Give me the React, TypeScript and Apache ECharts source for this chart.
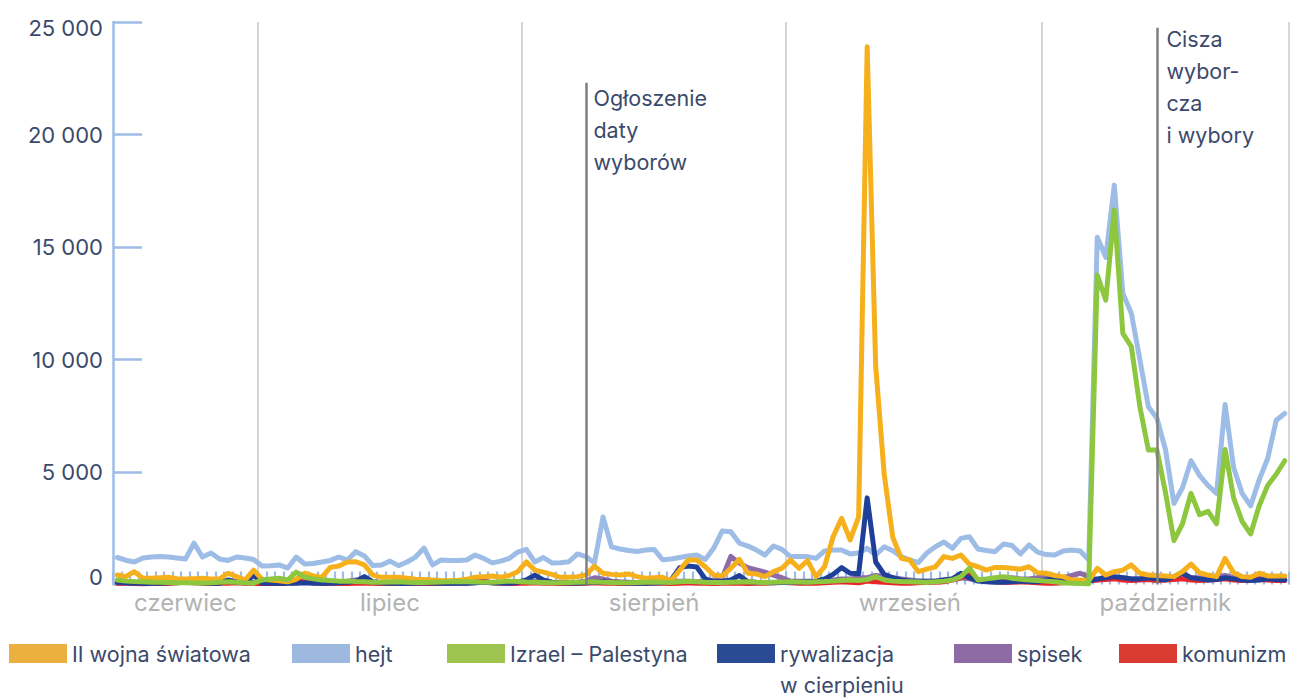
import React, { useEffect, useRef } from 'react';
import * as echarts from 'echarts';

// ---- categories: daily, 14 June 2023 – 29 October 2023 ----
const firstDay = '2023-06-14';
const dayCount = 138;
function buildDates(): string[] {
  const out: string[] = [];
  const t0 = Date.parse(firstDay + 'T00:00:00Z');
  for (let i = 0; i < dayCount; i++) {
    out.push(new Date(t0 + i * 86400000).toISOString().slice(0, 10));
  }
  return out;
}
const dates = buildDates();

const monthStarts = ['2023-07-01', '2023-08-01', '2023-09-01', '2023-10-01'];
const monthLabelDates = ['2023-06-22', '2023-07-16', '2023-08-16', '2023-09-15', '2023-10-15'];
const monthLabelTexts = ['czerwiec', 'lipiec', 'sierpień', 'wrzesień', 'październik'];

const yTicks = [0, 5000, 10000, 15000, 20000, 25000];

const eventDates = ['2023-08-08', '2023-10-14'];
const eventTops = [22300, 24750];
const eventTexts = ['Ogłoszenie\ndaty\nwyborów', 'Cisza\nwybor-\ncza\ni wybory'];

// ---- series ----
const seriesNames = ['II wojna światowa', 'hejt', 'Izrael – Palestyna', 'rywalizacja w cierpieniu', 'spisek', 'komunizm'];

const wojna = [
  420, 350, 570, 280, 280, 300, 320, 260, 240, 260,
  280, 250, 250, 500, 350, 200, 640, 230, 200, 170,
  120, 230, 500, 380, 320, 760, 820, 1000, 1010, 870,
  420, 320, 320, 320, 280, 230, 220, 200, 180, 170,
  190, 230, 320, 350, 380, 320, 400, 570, 1010, 640,
  550, 450, 320, 320, 350, 420, 820, 500, 450, 420,
  470, 350, 280, 300, 320, 170, 640, 1090, 1090, 790,
  420, 380, 720, 1120, 500, 470, 350, 570, 720, 1090,
  720, 1060, 350, 790, 2120, 2940, 1980, 3010, 23900, 9700,
  4900, 2100, 1160, 1090, 570, 680, 780, 1240, 1160, 1310,
  900, 790, 640, 760, 760, 720, 680, 790, 520, 500,
  400, 350, 200, 200, 170, 720, 420, 570, 640, 870,
  500, 420, 400, 380, 350, 570, 910, 520, 420, 350,
  1160, 520, 350, 320, 500, 380, 380, 380,
];

const hejt = [
  1200, 1080, 1000, 1180, 1220, 1240, 1220, 1180, 1130, 1840,
  1220, 1400, 1130, 1070, 1220, 1180, 1110, 820, 830, 870,
  730, 1220, 910, 930, 1000, 1070, 1220, 1090, 1460, 1270,
  840, 870, 1040, 840, 1000, 1220, 1620, 870, 1090, 1070,
  1070, 1090, 1310, 1160, 960, 1040, 1160, 1440, 1560, 1000,
  1200, 960, 970, 1010, 1360, 1240, 960, 3000, 1670, 1580,
  1510, 1470, 1530, 1560, 1100, 1130, 1200, 1270, 1310, 1110,
  1620, 2380, 2340, 1840, 1710, 1530, 1310, 1710, 1560, 1240,
  1240, 1240, 1160, 1490, 1530, 1530, 1360, 1400, 1610, 1310,
  1680, 1500, 1240, 1090, 970, 1400, 1680, 1890, 1610, 2050,
  2120, 1580, 1510, 1460, 1800, 1730, 1360, 1760, 1440, 1330,
  1310, 1490, 1530, 1490, 1090, 15430, 14540, 17750, 12940, 12050,
  10000, 7900, 7390, 6000, 3600, 4300, 5500, 4850, 4400, 4050,
  8000, 5200, 4050, 3500, 4650, 5600, 7300, 7600,
];

const izrael = [
  200, 150, 130, 120, 100, 100, 90, 80, 80, 70,
  70, 80, 100, 120, 100, 80, 60, 200, 250, 280,
  200, 550, 320, 250, 200, 180, 150, 150, 130, 120,
  100, 100, 110, 120, 100, 90, 90, 100, 110, 120,
  130, 120, 110, 100, 100, 120, 150, 130, 110, 100,
  90, 80, 80, 90, 100, 110, 120, 100, 90, 80,
  80, 90, 100, 110, 100, 90, 120, 140, 120, 100,
  90, 90, 100, 110, 120, 100, 90, 100, 110, 120,
  110, 100, 120, 130, 150, 180, 200, 180, 220, 350,
  200, 150, 130, 120, 110, 100, 120, 150, 200, 350,
  720, 200, 250, 300, 350, 280, 230, 200, 180, 150,
  120, 80, 60, 40, 30, 13750, 12640, 16640, 11160, 10570,
  7900, 5980, 5980, 4100, 1950, 2700, 4050, 3100, 3250, 2700,
  6000, 3850, 2800, 2250, 3500, 4400, 4900, 5500,
];

const rywalizacja = [
  100, 80, 60, 50, 50, 60, 80, 150, 200, 120,
  80, 60, 60, 200, 100, 80, 420, 60, 50, 40,
  50, 60, 80, 60, 50, 60, 80, 100, 150, 350,
  120, 80, 60, 50, 50, 60, 80, 70, 60, 60,
  50, 60, 80, 100, 80, 70, 60, 100, 200, 420,
  200, 100, 80, 70, 60, 80, 100, 120, 100, 80,
  70, 60, 60, 70, 80, 200, 750, 820, 780, 250,
  120, 150, 200, 400, 120, 100, 90, 80, 90, 100,
  110, 120, 150, 250, 450, 750, 500, 480, 3850, 1000,
  450, 300, 200, 150, 150, 150, 150, 200, 250, 500,
  300, 150, 120, 100, 100, 120, 150, 130, 120, 200,
  250, 200, 180, 150, 150, 250, 300, 350, 300, 250,
  250, 300, 250, 200, 350, 500, 300, 250, 200, 220,
  300, 250, 200, 180, 200, 250, 220, 200,
];

const spisek = [
  80, 60, 60, 50, 50, 50, 60, 80, 120, 100,
  80, 60, 60, 150, 120, 80, 100, 60, 50, 50,
  60, 80, 100, 80, 60, 60, 80, 150, 200, 100,
  80, 60, 60, 60, 60, 80, 80, 70, 60, 60,
  60, 60, 80, 100, 80, 80, 80, 100, 120, 150,
  120, 100, 80, 80, 100, 150, 300, 250, 150, 120,
  100, 80, 80, 90, 100, 120, 150, 150, 120, 150,
  200, 300, 1250, 950, 750, 650, 550, 420, 300, 150,
  150, 150, 150, 200, 200, 250, 250, 300, 300, 400,
  350, 300, 250, 200, 150, 150, 150, 200, 250, 300,
  250, 200, 200, 250, 300, 300, 250, 250, 300, 400,
  350, 300, 400, 500, 350, 200, 350, 300, 300, 250,
  250, 300, 200, 250, 300, 350, 300, 300, 250, 350,
  400, 300, 250, 250, 300, 250, 200, 200,
];

const komunizm = [
  60, 50, 40, 30, 40, 50, 60, 80, 100, 80,
  60, 50, 50, 60, 80, 60, 50, 40, 40, 60,
  100, 150, 120, 80, 60, 50, 40, 40, 50, 60,
  50, 40, 40, 50, 60, 50, 40, 40, 50, 60,
  80, 120, 200, 150, 80, 60, 50, 50, 60, 80,
  60, 50, 40, 40, 50, 60, 80, 60, 50, 40,
  40, 50, 60, 60, 50, 40, 60, 80, 60, 50,
  40, 50, 60, 50, 40, 50, 60, 80, 100, 80,
  60, 50, 60, 80, 100, 120, 100, 80, 150, 120,
  100, 80, 60, 60, 80, 100, 100, 120, 200, 300,
  450, 200, 150, 120, 100, 100, 120, 100, 80, 60,
  60, 80, 100, 120, 150, 200, 220, 250, 200, 180,
  200, 220, 180, 200, 220, 250, 200, 180, 200, 220,
  250, 200, 180, 200, 220, 200, 180, 180,
];

// ---- styling (kept apart from data) ----
const FONT = 'Inter, "Noto Sans", sans-serif';
const TEXT = '#3b4a6b';
const lineColors: Record<string, string> = {
  'II wojna światowa': '#f5b01c',
  hejt: '#9dbde6',
  'Izrael – Palestyna': '#8dc63f',
  'rywalizacja w cierpieniu': '#1f3f99',
  spisek: '#8e6aa8',
  komunizm: '#e8262a',
};
const legendColors: Record<string, string> = {
  'II wojna światowa': '#ebb040',
  hejt: '#9db9e0',
  'Izrael – Palestyna': '#9dc44f',
  'rywalizacja w cierpieniu': '#2a4a96',
  spisek: '#8f6ba6',
  komunizm: '#d93b30',
};
const legendLeft = [9, 292, 447, 717, 954, 1119];
const drawOrder = ['hejt', 'spisek', 'komunizm', 'rywalizacja w cierpieniu', 'II wojna światowa', 'Izrael – Palestyna'];

function fmtY(v: number): string {
  if (v === 0) return '{b|0}';
  const s = `${v / 1000} 000`;
  if (v === 25000) return `{t|${s}}`;
  return s;
}

export default function App() {
  const ref = useRef<HTMLDivElement>(null);

  useEffect(() => {
    if (!ref.current) return;
    const chart = echarts.init(ref.current, undefined, { renderer: 'svg' });

    const dataByName: Record<string, number[]> = {
      'II wojna światowa': wojna,
      hejt: hejt,
      'Izrael – Palestyna': izrael,
      'rywalizacja w cierpieniu': rywalizacja,
      spisek: spisek,
      komunizm: komunizm,
    };

    const series: any[] = drawOrder.map((name) => ({
      name,
      type: 'line',
      data: dataByName[name],
      symbol: 'none',
      showSymbol: false,
      silent: true,
      lineStyle: { width: 5, color: lineColors[name], join: 'round', cap: 'round' },
      itemStyle: { color: lineColors[name] },
      emphasis: { disabled: true },
    }));

    // event lines + annotations on the first drawn series
    series[0].markLine = {
      silent: true,
      symbol: ['none', 'none'],
      label: { show: false },
      lineStyle: { color: '#7f7f7f', width: 2.5, type: 'solid' },
      data: eventDates.map((d, i) => [
        { coord: [d, eventTops[i]] },
        { coord: [d, 0] },
      ]),
    };
    series[0].markPoint = {
      silent: true,
      symbol: 'rect',
      symbolSize: 1,
      itemStyle: { color: 'rgba(0,0,0,0)' },
      data: eventDates.map((d, i) => ({
        coord: [d, eventTops[i]],
        label: {
          show: true,
          position: [i === 0 ? 8 : 10, i === 0 ? 0 : -4],
          align: 'left',
          verticalAlign: 'top',
          formatter: eventTexts[i],
          fontSize: 21.5,
          lineHeight: 32,
          color: TEXT,
          fontFamily: FONT,
        },
      })),
    };

    const legends: any[] = seriesNames.map((name, i) => {
      const multi = name === 'rywalizacja w cierpieniu';
      return {
        show: true,
        selectedMode: false,
        left: legendLeft[i],
        top: multi ? 607 : 641.5,
        padding: 0,
        itemGap: 0,
        itemWidth: 58,
        itemHeight: 19,
        icon: 'rect',
        itemStyle: { borderWidth: 0 },
        formatter: multi ? () => ' \nrywalizacja\nw cierpieniu' : undefined,
        textStyle: multi
          ? { fontSize: 21.5, color: TEXT, fontFamily: FONT, lineHeight: 31 }
          : { fontSize: 21.5, color: TEXT, fontFamily: FONT, lineHeight: 24 },
        data: [{ name, itemStyle: { color: legendColors[name], borderWidth: 0 } }],
      };
    });

    const option: any = {
      animation: false,
      textStyle: { fontFamily: FONT },
      legend: legends,
      grid: { left: 113, right: 11, top: 22, bottom: 113.5 },
      xAxis: {
        type: 'category',
        data: dates,
        boundaryGap: true,
        axisLine: { show: false },
        axisTick: {
          show: true,
          inside: true,
          interval: 0,
          length: 13,
          lineStyle: { color: '#9dbde6', width: 2.2 },
        },
        axisLabel: {
          interval: (_i: number, v: string) => monthLabelDates.includes(v),
          formatter: (v: string) => {
            const k = monthLabelDates.indexOf(v);
            return k >= 0 ? monthLabelTexts[k] : '';
          },
          fontSize: 24,
          color: '#b3b3b3',
          fontFamily: FONT,
          margin: 6,
        },
        splitLine: {
          show: true,
          interval: (_i: number, v: string) => monthStarts.includes(v),
          lineStyle: { color: '#c9c9c9', width: 1.5 },
        },
      },
      yAxis: {
        type: 'value',
        min: yTicks[0],
        max: yTicks[yTicks.length - 1],
        interval: 5000,
        axisLine: { show: true, lineStyle: { color: '#9dbde6', width: 2.5 } },
        axisTick: { show: true, inside: true, length: 29, lineStyle: { color: '#9dbde6', width: 2.5 } },
        splitLine: { show: false },
        axisLabel: {
          formatter: fmtY,
          fontSize: 22,
          color: TEXT,
          fontFamily: FONT,
          margin: 10,
          rich: {
            b: { fontSize: 22, color: TEXT, fontFamily: FONT, padding: [0, 0, 16, 0] },
            t: { fontSize: 22, color: TEXT, fontFamily: FONT, padding: [12, 0, 0, 0] },
          },
        },
      },
      series,
    };

    chart.setOption(option);
    return () => chart.dispose();
  }, []);

  return (
    <div
      ref={ref}
      style={{ position: 'absolute', left: 0, top: 0, width: 1300, height: 698, background: '#fff' }}
    />
  );
}
